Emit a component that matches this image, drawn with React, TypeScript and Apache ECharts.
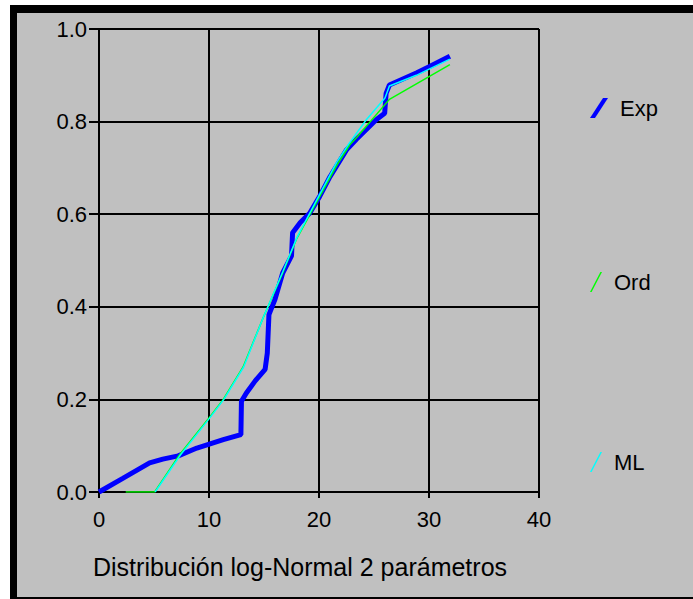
import React, { useEffect, useRef } from "react";
import * as echarts from "echarts";

const xTicks = [0, 10, 20, 30, 40];
const yTicks = [0, 0.2, 0.4, 0.6, 0.8, 1.0];
const seriesNames = ["Exp", "Ord", "ML"];
const titleText = "Distribución log-Normal 2 parámetros";

const expData: [number, number][] = [
  [0, 0], [2.2, 0.03], [4.6, 0.063], [5.8, 0.071], [7.2, 0.078], [8.9, 0.095],
  [11.3, 0.113], [12.9, 0.124], [12.95, 0.196], [13.4, 0.214], [14.2, 0.24],
  [15.1, 0.265], [15.3, 0.3], [15.45, 0.383], [16.0, 0.416], [16.7, 0.473],
  [17.5, 0.51], [17.6, 0.56], [18.3, 0.582], [19.15, 0.602], [20.05, 0.638],
  [21.0, 0.681], [22.5, 0.739], [23.4, 0.762], [25.2, 0.804], [25.97, 0.818],
  [26.1, 0.861], [26.4, 0.879], [28.85, 0.905], [30.06, 0.919], [31.9, 0.941],
];

const ordData: [number, number][] = [
  [2.43, 0], [5.06, 0], [7.34, 0.081], [10.0, 0.16], [11.3, 0.2], [13.1, 0.27],
  [14.9, 0.375], [16.7, 0.473], [17.95, 0.546], [20.0, 0.635], [21.6, 0.705],
  [22.8, 0.75], [23.5, 0.768], [26.4, 0.848], [31.9, 0.923],
];

const mlData: [number, number][] = [
  [5.1, 0], [7.4, 0.08], [10.0, 0.158], [11.35, 0.2], [13.15, 0.27],
  [14.95, 0.378], [16.7, 0.475], [18.0, 0.55], [20.0, 0.64], [21.6, 0.712],
  [22.8, 0.755], [24.3, 0.804], [26.0, 0.851], [26.4, 0.877], [28.85, 0.9],
  [30.06, 0.914], [31.9, 0.935],
];

const FONT = "Liberation Sans, Arial, sans-serif";

export default function App() {
  const ref = useRef<HTMLDivElement>(null);
  useEffect(() => {
    if (!ref.current) return;
    const chart = echarts.init(ref.current, undefined, { renderer: "svg" });
    const axisLineStyle = { color: "#000", width: 2 };
    const legendBase = (name: string, top: number, icon: string, w: number) => ({
      data: [name],
      left: 585,
      top,
      orient: "vertical",
      icon,
      itemWidth: w,
      itemHeight: 20,
      selectedMode: false,
      textStyle: { color: "#000", fontSize: 22, fontFamily: FONT, padding: [0, 0, 0, 7] },
    });
    chart.setOption({
      animation: false,
      backgroundColor: "#ffffff",
      graphic: [
        { type: "rect", z: -10, silent: true, shape: { x: 10, y: 5, width: 683, height: 594 }, style: { fill: "#000" } },
        { type: "rect", z: -9, silent: true, shape: { x: 17, y: 13, width: 676, height: 584 }, style: { fill: "#c0c0c0" } },
      ],
      title: {
        text: titleText,
        left: 88,
        top: 549,
        textStyle: { color: "#000", fontSize: 25, fontWeight: "normal", fontFamily: FONT },
      },
      legend: [
        legendBase(seriesNames[0], 92, "path://M0,20 L5,20 L18,0 L13,0 Z", 18),
        legendBase(seriesNames[1], 266, "path://M0,20 L1.6,20 L12,0 L10.4,0 Z", 12),
        legendBase(seriesNames[2], 446, "path://M0,20 L1.6,20 L12,0 L10.4,0 Z", 12),
      ],
      grid: { left: 99, top: 29, width: 440, height: 463 },
      xAxis: {
        type: "value",
        min: xTicks[0],
        max: xTicks[xTicks.length - 1],
        interval: 10,
        axisLine: { show: true, onZero: false, lineStyle: axisLineStyle },
        axisTick: { show: true, length: 6, lineStyle: axisLineStyle },
        splitLine: { show: true, lineStyle: axisLineStyle },
        axisLabel: { color: "#000", fontSize: 22, fontFamily: FONT, margin: 16 },
      },
      yAxis: {
        type: "value",
        min: yTicks[0],
        max: yTicks[yTicks.length - 1],
        interval: 0.2,
        axisLine: { show: true, onZero: false, lineStyle: axisLineStyle },
        axisTick: { show: true, length: 10, lineStyle: axisLineStyle },
        splitLine: { show: true, lineStyle: axisLineStyle },
        axisLabel: { color: "#000", fontSize: 22, fontFamily: FONT, margin: 12, formatter: (v: number) => v.toFixed(1) },
      },
      series: [
        {
          name: seriesNames[0], type: "line", data: expData, symbol: "none",
          itemStyle: { color: "#0000ff" }, lineStyle: { color: "#0000ff", width: 5 },
        },
        {
          name: seriesNames[1], type: "line", data: ordData, symbol: "none",
          itemStyle: { color: "#00ff00" }, lineStyle: { color: "#00ff00", width: 1.5 },
        },
        {
          name: seriesNames[2], type: "line", data: mlData, symbol: "none",
          itemStyle: { color: "#00ffff" }, lineStyle: { color: "#00ffff", width: 1.5 },
        },
      ],
    });
    return () => chart.dispose();
  }, []);
  return (
    <div style={{ position: "absolute", left: 0, top: 0, width: 693, height: 599 }}>
      <div ref={ref} style={{ width: 693, height: 599 }} />
    </div>
  );
}
